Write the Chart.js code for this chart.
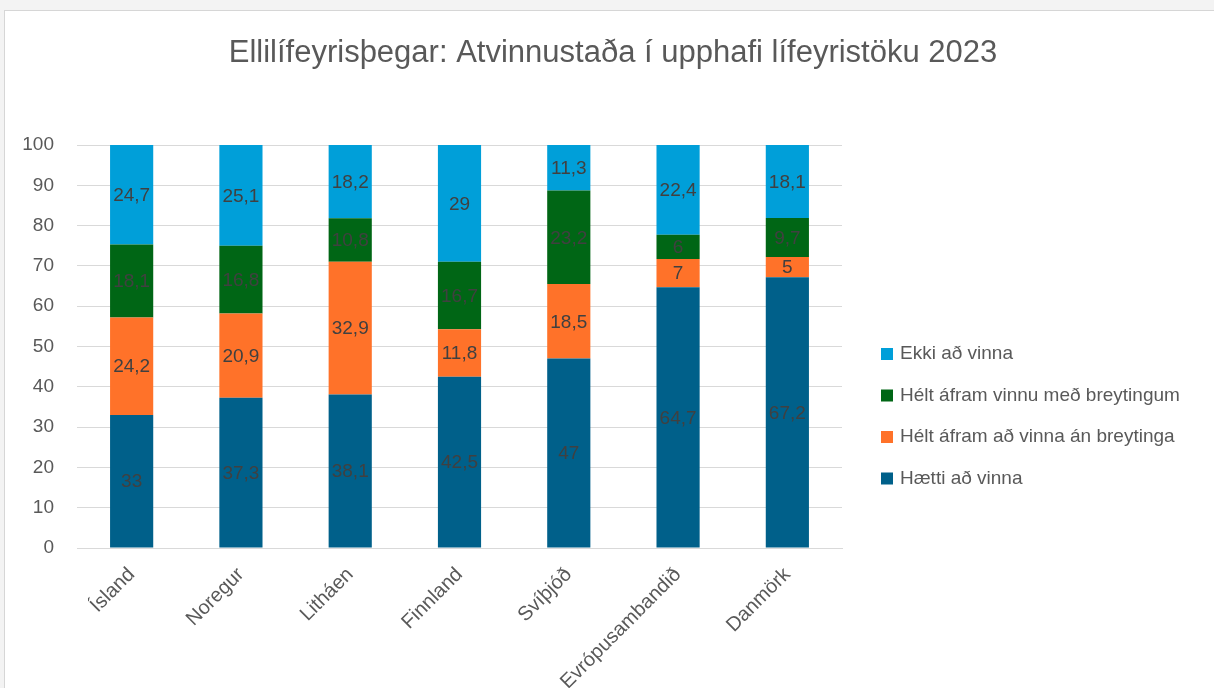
<!DOCTYPE html>
<html>
<head>
<meta charset="utf-8">
<script src="https://cdn.jsdelivr.net/npm/chart.js@4/dist/chart.umd.min.js"></script>
<style>
  html, body { margin: 0; padding: 0; background: #f3f3f3; width: 1214px; height: 688px; overflow: hidden; }
  #card { position: absolute; left: 4px; top: 10px; width: 1210px; height: 678px; background: #ffffff; border-top: 1px solid #d6d6d6; border-left: 1px solid #d6d6d6; }
  #c { position: absolute; left: 0; top: 0; }
</style>
</head>
<body>
<div id="card"><canvas id="c" width="1209" height="677"></canvas></div>
<script>
const titleText = 'Ellilífeyrisþegar: Atvinnustaða í upphafi lífeyristöku 2023';
const categories = ['Ísland', 'Noregur', 'Litháen', 'Finnland', 'Svíþjóð', 'Evrópusambandið', 'Danmörk'];
const seriesNames = ['Hætti að vinna', 'Hélt áfram að vinna án breytinga', 'Hélt áfram vinnu með breytingum', 'Ekki að vinna'];
const haettiAdVinna = [33, 37.3, 38.1, 42.5, 47, 64.7, 67.2];
const heltAnBreytinga = [24.2, 20.9, 32.9, 11.8, 18.5, 7, 5];
const heltMedBreytingum = [18.1, 16.8, 10.8, 16.7, 23.2, 6, 9.7];
const ekkiAdVinna = [24.7, 25.1, 18.2, 29, 11.3, 22.4, 18.1];
const yTicks = [0, 10, 20, 30, 40, 50, 60, 70, 80, 90, 100];
const seriesColors = ['#00608A', '#FF7229', '#006615', '#009FD9'];

const FONT = "'Liberation Sans', Arial, sans-serif";
const TEXT = '#595959';

const seriesData = [haettiAdVinna, heltAnBreytinga, heltMedBreytingum, ekkiAdVinna];

const titlePlugin = {
  id: 'customTitle',
  afterDraw(chart) {
    const ctx = chart.ctx;
    ctx.save();
    ctx.font = '31px ' + FONT;
    ctx.fillStyle = TEXT;
    ctx.textAlign = 'center';
    ctx.textBaseline = 'alphabetic';
    ctx.fillText(titleText, 608, 51);
    ctx.restore();
  }
};

const dataLabelPlugin = {
  id: 'dataLabels',
  afterDatasetsDraw(chart) {
    const ctx = chart.ctx;
    ctx.save();
    ctx.font = '19px ' + FONT;
    ctx.fillStyle = '#404040';
    ctx.textAlign = 'center';
    ctx.textBaseline = 'middle';
    chart.data.datasets.forEach((ds, di) => {
      const meta = chart.getDatasetMeta(di);
      meta.data.forEach((bar, i) => {
        const v = ds.data[i];
        const top = Math.max(bar.y, chart.chartArea.top);
        const cy = (top + bar.base) / 2;
        ctx.fillText(String(v).replace('.', ','), bar.x, cy + 1);
      });
    });
    ctx.restore();
  }
};

const legendPlugin = {
  id: 'customLegend',
  afterDraw(chart) {
    const ctx = chart.ctx;
    const x0 = chart.chartArea.right + 39;
    const y0 = 343;
    const step = 41.5;
    ctx.save();
    ctx.font = '19px ' + FONT;
    ctx.textBaseline = 'middle';
    ctx.textAlign = 'left';
    const n = chart.data.datasets.length;
    for (let k = 0; k < n; k++) {
      const di = n - 1 - k;
      const ds = chart.data.datasets[di];
      const cy = y0 + k * step;
      ctx.fillStyle = ds.backgroundColor;
      ctx.fillRect(x0, cy - 6, 12, 12);
      ctx.fillStyle = TEXT;
      ctx.fillText(ds.label, x0 + 19, cy);
    }
    ctx.restore();
  }
};

new Chart(document.getElementById('c'), {
  type: 'bar',
  data: {
    labels: categories,
    datasets: seriesNames.map((name, i) => ({
      label: name,
      data: seriesData[i],
      backgroundColor: seriesColors[i],
      borderWidth: 0,
      barPercentage: 0.395,
      categoryPercentage: 1.0
    }))
  },
  options: {
    responsive: false,
    animation: false,
    events: [],
    layout: { padding: { left: 0, right: 372, top: 134, bottom: 0 } },
    plugins: {
      legend: { display: false },
      tooltip: { enabled: false },
      title: { display: false }
    },
    scales: {
      x: {
        stacked: true,
        grid: { display: false, drawTicks: false },
        border: { display: true, color: '#d9d9d9', width: 1 },
        ticks: {
          color: TEXT,
          font: { family: FONT, size: 20 },
          maxRotation: 45,
          minRotation: 45,
          padding: 15,
          autoSkip: false
        },
        afterFit(scale) { scale.height = 140; }
      },
      y: {
        stacked: true,
        min: 0,
        max: 100,
        afterBuildTicks(scale) { scale.ticks = yTicks.map(v => ({ value: v })); },
        grid: { color: '#d9d9d9', lineWidth: 1, drawTicks: false },
        border: { display: false },
        ticks: {
          color: TEXT,
          font: { family: FONT, size: 19 },
          padding: 23
        },
        afterFit(scale) { scale.width = 72; }
      }
    }
  },
  plugins: [dataLabelPlugin, legendPlugin, titlePlugin]
});
</script>
</body>
</html>
